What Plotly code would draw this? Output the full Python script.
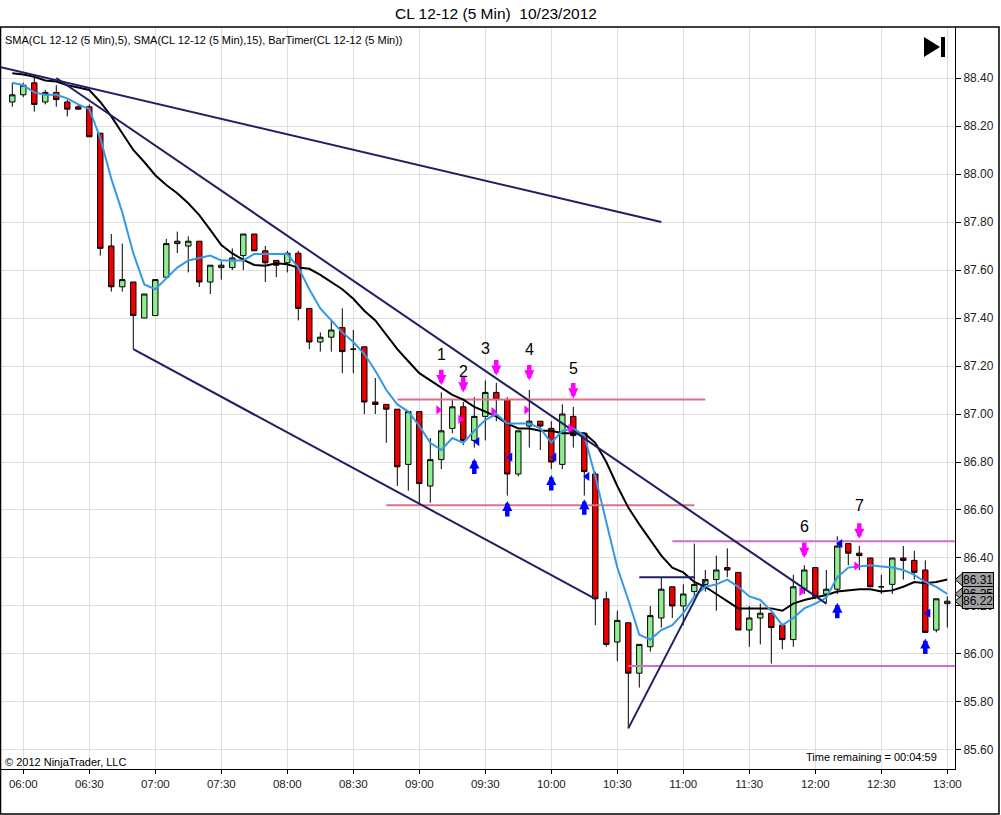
import pandas as pd
import plotly.graph_objects as go

# CL 12-12 5 min bars, 10/23/2012
DAY = "2012-10-23 "
bar_times = pd.date_range(DAY + "05:55", periods=86, freq="5min")

opens = [88.30, 88.33, 88.38, 88.30, 88.34, 88.30, 88.28, 88.28, 88.17, 87.70,
         87.53, 87.55, 87.40, 87.41, 87.57, 87.71, 87.70, 87.72, 87.55, 87.61,
         87.61, 87.66, 87.75, 87.68, 87.64, 87.63, 87.67, 87.44, 87.30, 87.32,
         87.36, 87.27, 87.28, 87.05, 87.04, 87.02, 86.79, 87.01, 86.70, 86.81,
         86.94, 87.03, 86.89, 86.99, 87.09, 87.06, 86.75, 86.95, 86.97, 86.94,
         86.79, 86.99, 86.92, 86.75, 86.23, 86.05, 86.13, 85.92, 86.03, 86.15,
         86.28, 86.20, 86.26, 86.29, 86.31, 86.36, 86.34, 86.10, 86.15, 86.17,
         86.12, 86.06, 86.27, 86.36, 86.25, 86.27, 86.46, 86.42, 86.40, 86.28,
         86.29, 86.40, 86.39, 86.35, 86.10, 86.21]
highs = [88.38, 88.38, 88.40, 88.35, 88.37, 88.31, 88.29, 88.29, 88.17, 87.75,
         87.71, 87.55, 87.50, 87.56, 87.73, 87.76, 87.74, 87.72, 87.62, 87.635,
         87.69, 87.75, 87.75, 87.70, 87.64, 87.68, 87.68, 87.44, 87.34, 87.39,
         87.44, 87.35, 87.28, 87.15, 87.04, 87.02, 87.01, 87.01, 86.90, 87.09,
         87.06, 87.05, 87.07, 87.14, 87.13, 87.07, 86.93, 87.10, 86.97, 86.97,
         87.04, 87.03, 86.92, 86.76, 86.26, 86.18, 86.13, 86.04, 86.20, 86.32,
         86.28, 86.29, 86.46, 86.35, 86.41, 86.44, 86.34, 86.20, 86.21, 86.17,
         86.12, 86.33, 86.37, 86.36, 86.35, 86.49, 86.46, 86.45, 86.40, 86.33,
         86.40, 86.45, 86.43, 86.39, 86.23, 86.24]
lows = [88.28, 88.32, 88.26, 88.29, 88.28, 88.24, 88.27, 88.155, 87.66, 87.51,
        87.51, 87.27, 87.40, 87.41, 87.57, 87.67, 87.59, 87.53, 87.50, 87.56,
        87.60, 87.60, 87.68, 87.55, 87.57, 87.59, 87.39, 87.27, 87.26, 87.26,
        87.17, 87.17, 87.00, 87.00, 86.88, 86.70, 86.68, 86.63, 86.63, 86.77,
        86.92, 86.87, 86.86, 86.89, 86.97, 86.66, 86.74, 86.86, 86.85, 86.77,
        86.77, 86.86, 86.66, 86.12, 86.03, 85.97, 85.69, 85.86, 86.01, 86.11,
        86.15, 86.12, 86.24, 86.26, 86.18, 86.32, 86.10, 86.03, 86.04, 85.96,
        86.02, 86.03, 86.25, 86.23, 86.21, 86.25, 86.37, 86.35, 86.28, 86.25,
        86.25, 86.31, 86.31, 86.09, 86.09, 86.11]
closes = [88.33, 88.37, 88.29, 88.34, 88.31, 88.27, 88.27, 88.155, 87.69, 87.53,
          87.56, 87.41, 87.50, 87.56, 87.71, 87.72, 87.72, 87.55, 87.62, 87.62,
          87.65, 87.75, 87.68, 87.63, 87.62, 87.67, 87.44, 87.30, 87.32, 87.35,
          87.26, 87.27, 87.05, 87.04, 87.02, 86.78, 87.01, 86.71, 86.81, 86.93,
          87.03, 86.89, 86.99, 87.09, 87.06, 86.75, 86.93, 86.97, 86.95, 86.80,
          87.00, 86.91, 86.76, 86.23, 86.04, 86.14, 85.92, 86.04, 86.16, 86.27,
          86.20, 86.25, 86.29, 86.31, 86.35, 86.35, 86.10, 86.15, 86.17, 86.11,
          86.06, 86.28, 86.35, 86.24, 86.27, 86.45, 86.42, 86.41, 86.28, 86.28,
          86.40, 86.39, 86.34, 86.09, 86.23, 86.22]

# indicator values as drawn on the chart
sma5 = [88.38, 88.37, 88.34, 88.33, 88.33, 88.315, 88.29, 88.27, 88.15, 87.98,
        87.84, 87.67, 87.54, 87.52, 87.565, 87.61, 87.64, 87.65, 87.66, 87.64,
        87.64, 87.64, 87.667, 87.667, 87.667, 87.667, 87.61, 87.52, 87.44, 87.39,
        87.34, 87.30, 87.25, 87.18, 87.10, 87.04, 87.01, 86.95, 86.88, 86.85,
        86.90, 86.88, 86.93, 86.975, 87.00, 86.96, 86.96, 86.96, 86.94, 86.88,
        86.93, 86.94, 86.91, 86.74, 86.55, 86.36, 86.225, 86.08, 86.06, 86.10,
        86.12, 86.17, 86.24, 86.28, 86.29, 86.31, 86.28, 86.24, 86.225, 86.18,
        86.12, 86.15, 86.19, 86.21, 86.235, 86.32, 86.36, 86.365, 86.37, 86.365,
        86.36, 86.35, 86.33, 86.30, 86.28, 86.25]
sma15 = [88.42, 88.415, 88.405, 88.39, 88.385, 88.37, 88.36, 88.35, 88.30, 88.24,
         88.17, 88.10, 88.05, 87.995, 87.954, 87.92, 87.878, 87.829, 87.767, 87.704,
         87.669, 87.642, 87.621, 87.618, 87.628, 87.624, 87.61, 87.605, 87.58, 87.55,
         87.52, 87.48, 87.43, 87.39, 87.33, 87.27, 87.22, 87.17, 87.14, 87.11,
         87.08, 87.06, 87.03, 87.01, 86.99, 86.96, 86.94, 86.94, 86.93, 86.93,
         86.92, 86.92, 86.92, 86.88, 86.80, 86.70, 86.61, 86.54, 86.475, 86.41,
         86.36, 86.34, 86.30, 86.28, 86.25, 86.22, 86.19, 86.19, 86.19, 86.19,
         86.18, 86.21, 86.225, 86.235, 86.246, 86.26, 86.265, 86.27, 86.27, 86.26,
         86.265, 86.28, 86.30, 86.295, 86.30, 86.31]

# drawing objects: (start time, start price, end time, end price)
trend_lines = [("05:49", 88.447, "10:50", 87.80),
               ("06:15", 88.40, "12:05", 86.21),
               ("06:50", 87.27, "10:20", 86.23),
               ("10:35", 85.69, "11:10", 86.31),
               ("10:40", 86.32, "11:05", 86.32)]
pink_lines = [("08:50", 87.06, "11:10", 87.06),
              ("08:45", 86.62, "11:05", 86.62)]
violet_lines = [("10:55", 86.47, "13:10", 86.47),
                ("10:35", 85.95, "13:10", 85.95)]

# signal markers
short_times = ["09:10", "09:20", "09:35", "09:50", "10:10", "11:55", "12:20"]
short_tips = [87.12, 87.09, 87.16, 87.14, 87.065, 86.40, 86.48]
short_tri = [87.017, 86.978, 87.01, 87.017, 86.94, 86.26, 86.367]
long_times = ["09:25", "09:40", "10:00", "10:15", "12:10", "12:50"]
long_tips = [86.815, 86.6375, 86.746, 86.645, 86.214, 86.065]
long_tri = [86.885, 86.82, 86.82, 86.74, 86.46, 86.17]

count_labels = ["1", "2", "3", "4", "5", "6", "7"]
count_times = ["09:10", "09:20", "09:30", "09:50", "10:10", "11:55", "12:20"]
count_prices = [87.246, 87.179, 87.274, 87.27, 87.19, 86.53, 86.617]

last_values = [sma15[-1], sma5[-1], closes[-1]]

price_ticks = [85.60 + 0.2 * i for i in range(15)]

NAVY = "#1F1F66"
FONT = "Liberation Sans, Arial, sans-serif"


def ts(hm, sec_shift=0):
    return pd.Timestamp(DAY + hm) + pd.Timedelta(seconds=sec_shift)


fig = go.Figure()

fig.add_trace(go.Candlestick(
    x=bar_times, open=opens, high=highs, low=lows, close=closes,
    increasing=dict(line=dict(color="black", width=1), fillcolor="#90EE90"),
    decreasing=dict(line=dict(color="black", width=1), fillcolor="#EE0000"),
    whiskerwidth=0, hoverinfo="skip"))

for t0, p0, t1, p1 in pink_lines:
    fig.add_trace(go.Scatter(x=[ts(t0), ts(t1)], y=[p0, p1], mode="lines",
                             line=dict(color="#E0708A", width=2), hoverinfo="skip"))
for t0, p0, t1, p1 in violet_lines:
    fig.add_trace(go.Scatter(x=[ts(t0), ts(t1)], y=[p0, p1], mode="lines",
                             line=dict(color="#CC70CC", width=2), hoverinfo="skip"))

fig.add_trace(go.Scatter(x=bar_times, y=sma15, mode="lines",
                         line=dict(color="black", width=2), hoverinfo="skip"))
fig.add_trace(go.Scatter(x=bar_times, y=sma5, mode="lines",
                         line=dict(color="#3399E6", width=2), hoverinfo="skip"))

for t0, p0, t1, p1 in trend_lines:
    fig.add_trace(go.Scatter(x=[ts(t0), ts(t1)], y=[p0, p1], mode="lines",
                             line=dict(color=NAVY, width=2), hoverinfo="skip"))

# small triangles next to signal bars
fig.add_trace(go.Scatter(x=[ts(t, -80) for t in short_times], y=short_tri, mode="markers",
                         marker=dict(symbol="triangle-right", size=8, color="#FF00FF"),
                         hoverinfo="skip"))
fig.add_trace(go.Scatter(x=[ts(t, 80) for t in long_times], y=long_tri, mode="markers",
                         marker=dict(symbol="triangle-left", size=8, color="#0000FF"),
                         hoverinfo="skip"))

# block arrows
for t, p in zip(short_times, short_tips):
    fig.add_annotation(x=ts(t), y=p, ax=0, ay=-17, text="", showarrow=True,
                       arrowhead=2, arrowsize=0.45, arrowwidth=4.5, arrowcolor="#FF00FF",
                       standoff=0)
for t, p in zip(long_times, long_tips):
    fig.add_annotation(x=ts(t), y=p, ax=0, ay=17, text="", showarrow=True,
                       arrowhead=2, arrowsize=0.45, arrowwidth=4.5, arrowcolor="#0000FF",
                       standoff=0)

for lab, t, p in zip(count_labels, count_times, count_prices):
    fig.add_annotation(x=ts(t), y=p, text=lab, showarrow=False,
                       font=dict(family=FONT, size=16, color="black"))

# last value tags on the price axis
for v in last_values:
    fig.add_shape(type="path", xref="paper", yref="y",
                  path=f"M 1.0,{v} L 1.0078,{v + 0.026} L 1.0078,{v - 0.026} Z",
                  fillcolor="#A0A0A0", line=dict(color="black", width=1), layer="above")
    fig.add_annotation(x=1.0073, y=v, xref="paper", yref="y", xanchor="left",
                       yanchor="middle", text=f"{v:.2f}", showarrow=False,
                       font=dict(family=FONT, size=12, color="black"),
                       bgcolor="#A0A0A0", bordercolor="black", borderwidth=1, borderpad=0)

# texts
fig.add_annotation(x=0.519, y=1.0, xref="paper", yref="paper", yshift=14, yanchor="middle",
                   text="CL 12-12 (5 Min)  10/23/2012", showarrow=False,
                   font=dict(family=FONT, size=15.5, color="black"))
fig.add_annotation(x=0.002, y=0.983, xref="paper", yref="paper", xanchor="left",
                   yanchor="middle", showarrow=False,
                   text="SMA(CL 12-12 (5 Min),5), SMA(CL 12-12 (5 Min),15), BarTimer(CL 12-12 (5 Min))",
                   font=dict(family=FONT, size=11, color="black"))
fig.add_annotation(x=0.002, y=0.0095, xref="paper", yref="paper", xanchor="left",
                   yanchor="middle", showarrow=False, text="© 2012 NinjaTrader, LLC",
                   font=dict(family=FONT, size=11, color="black"))
fig.add_annotation(x=0.983, y=0.0155, xref="paper", yref="paper", xanchor="right",
                   yanchor="middle", showarrow=False, text="Time remaining = 00:04:59",
                   font=dict(family=FONT, size=11, color="black"))

# "go to last bar" icon and outer frame
fig.add_shape(type="path", xref="paper", yref="paper",
              path="M 0.9675,0.9865 L 0.9843,0.9730 L 0.9675,0.9596 Z",
              fillcolor="black", line=dict(width=0))
fig.add_shape(type="rect", xref="paper", yref="paper", x0=0.9853, x1=0.9895,
              y0=0.9596, y1=0.9865, fillcolor="black", line=dict(width=0))
fig.add_shape(type="rect", xref="paper", yref="paper", x0=-0.0005, x1=1.0461,
              y0=-0.0606, y1=1.0, line=dict(color="black", width=1.5))

fig.update_layout(
    width=1001, height=815,
    margin=dict(l=1, r=46, t=27, b=46, autoexpand=False),
    paper_bgcolor="white", plot_bgcolor="white",
    showlegend=False,
    font=dict(family=FONT, size=11, color="black"),
    xaxis=dict(
        type="date", automargin=False,
        range=[ts("05:49:52"), ts("13:03:30")],
        rangeslider=dict(visible=False),
        tick0=ts("06:00"), dtick=30 * 60 * 1000, tickformat="%H:%M",
        ticks="outside", ticklen=4, tickcolor="black",
        showline=True, linecolor="black", linewidth=1,
        showgrid=True, gridcolor="#DEDEDE", gridwidth=1,
        tickfont=dict(family=FONT, size=11.5, color="#222222"),
        zeroline=False, fixedrange=True),
    yaxis=dict(
        side="right", automargin=False,
        range=[85.5208, 88.6125],
        tickvals=price_ticks, ticktext=[f"{v:.2f}" for v in price_ticks],
        ticks="outside", ticklen=5, tickcolor="black",
        showline=True, linecolor="black", linewidth=1,
        showgrid=True, gridcolor="#DEDEDE", gridwidth=1,
        tickfont=dict(family=FONT, size=12, color="#222222"),
        zeroline=False, fixedrange=True),
)

# the page body has a default 8px margin; drop it so the chart fills the window
fig.write_html("out.html", config={"displayModeBar": False},
               post_script="document.body.style.margin='0px';")
